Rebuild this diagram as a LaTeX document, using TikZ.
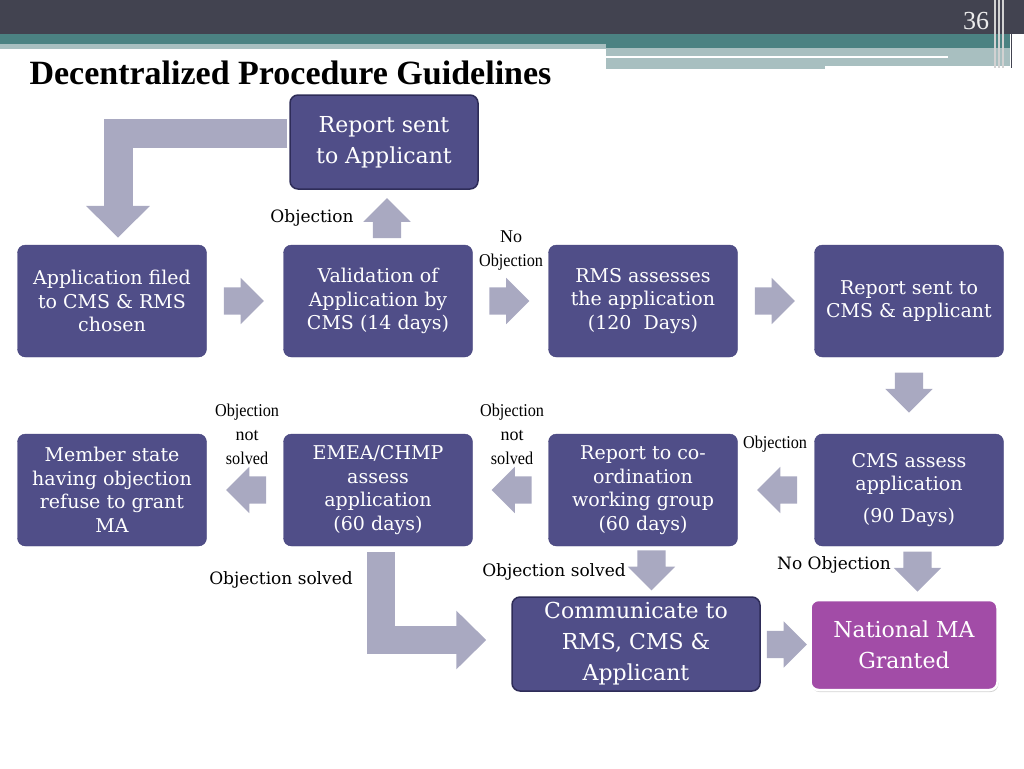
\documentclass[tikz,border=0pt]{standalone}
\usepackage{graphicx}
\usepackage{fontspec}
\setmainfont{DejaVu Serif}
\newfontfamily\narrowserif{Liberation Serif}
\usetikzlibrary{calc, positioning, shapes.arrows, arrows.meta, shadows}

\definecolor{slidedark}{HTML}{424350}
\definecolor{slideteal}{HTML}{4B8282}
\definecolor{slidelight}{HTML}{A8BFC0}
\definecolor{procfill}{HTML}{504E88}
\definecolor{procedge}{HTML}{45437B}
\definecolor{procdark}{HTML}{2E2C58}
\definecolor{grantfill}{HTML}{A24CA7}
\definecolor{arrowgray}{HTML}{A9A9C1}

\newcommand{\narrowtxt}[1]{\scalebox{0.9}[1]{#1}}

\begin{document}
\begin{tikzpicture}[x=1pt, y=-1pt]
	\useasboundingbox (0,0) rectangle (1024,768);

	% slide header bands
	\fill[slidedark] (0,0) rectangle (1024,34);
	\fill[slideteal] (0,34) rectangle (1010,44);
	\fill[slidelight] (0,44) rectangle (606,49);
	\fill[slideteal] (606,44) rectangle (1010,48);
	\fill[slidelight] (606,48) rectangle (1010,66);
	\fill[slidelight] (606,66) rectangle (825,69);
	\fill[white] (606,56) rectangle (948,58);
	\foreach \x in {995,999,1003}
		\draw[gray!35, line width=1.5pt] (\x,0) -- (\x,68);
	\draw[slidedark, line width=1pt] (1011,0) -- (1011,68);
	\node[text=white!85!gray, font=\narrowserif\fontsize{26}{26}\selectfont] (pagenum) at (976,21) {36};
	\node[anchor=west, font=\narrowserif\bfseries\fontsize{34}{34}\selectfont] (title) at (26,73) {Decentralized Procedure Guidelines};

	% define the styles of the boxes and the block arrows
	\tikzstyle{proc box} = [rounded corners=8pt, fill=procfill, draw=procedge, text=white, align=center, minimum width=189pt, minimum height=112pt, inner sep=3pt, font=\fontsize{19}{23.5}\selectfont]
	\tikzstyle{big box} = [proc box, draw=procdark, line width=1.5pt, font=\fontsize{22}{31}\selectfont]
	\tikzstyle{blk arrow} = [fill=arrowgray, single arrow, single arrow head extend=9.5pt, minimum height=40pt, inner xsep=0pt, inner ysep=13.5pt, shape border rotate=#1, shift={(#1+180:8pt)}]
	\tikzstyle{vblk arrow} = [blk arrow=#1, inner xsep=14pt, inner ysep=0pt]
	\tikzstyle{bent arrow} = [draw=arrowgray, line width=29pt, line join=miter, -{Triangle[width=62pt, length=32pt]}]
	\tikzstyle{lbl} = [font=\fontsize{17}{22}\selectfont, inner sep=1pt]
	\tikzstyle{nlbl} = [font=\narrowserif\fontsize{18}{24}\selectfont, align=center, inner sep=1pt]

	% first row
	\node[proc box] (filed) at (112,301) {Application filed\\to CMS \& RMS\\chosen};
	\node[proc box] (valid) at (378,301) {Validation of\\Application by\\CMS (14 days)};
	\node[proc box] (rmsass) at (643,301) {RMS assesses\\the application\\(120~ Days)};
	\node[proc box] (repcms) at (909,301) {Report sent to\\CMS \& applicant};
	\node[big box, minimum width=188pt, minimum height=94pt] (repapp) at (384,142) {Report sent\\to Applicant};

	% second row
	\node[proc box] (refuse) at (112,490) {Member state\\having objection\\refuse to grant\\MA};
	\node[proc box] (emea) at (378,490) {EMEA/CHMP\\assess\\application\\(60 days)};
	\node[proc box] (coord) at (643,490) {Report to co-\\ordination\\working group\\(60 days)};
	\node[proc box] (cmsass) at (909,490) {CMS assess\\application\\[8pt](90 Days)};

	% third row
	\node[big box, minimum width=248pt, minimum height=94pt] (commun) at (636,644) {Communicate to\\RMS, CMS \&\\Applicant};
	\node[proc box, fill=grantfill, draw=white, line width=2.5pt, minimum width=187pt, minimum height=90pt, font=\fontsize{22}{31}\selectfont, drop shadow={opacity=0.35, shadow xshift=1pt, shadow yshift=-2pt}] (granted) at (904,645) {National MA\\Granted};

	% block arrows
	\node[blk arrow=0] (fv) at ($(filed.east)!0.5!(valid.west)$) {};
	\node[blk arrow=0] (vr) at ($(valid.east)!0.5!(rmsass.west)$) {};
	\node[blk arrow=0] (rr) at ($(rmsass.east)!0.5!(repcms.west)$) {};
	\node[vblk arrow=90] (vup) at ($(valid.north)!0.5!(repapp.south)+(6,0)$) {};
	\node[vblk arrow=270] (rc) at ($(repcms.south)!0.5!(cmsass.north)+(0,-2)$) {};
	\node[blk arrow=180] (cc) at ($(cmsass.west)!0.5!(coord.east)$) {};
	\node[blk arrow=180] (ce) at ($(coord.west)!0.5!(emea.east)$) {};
	\node[blk arrow=180] (er) at ($(emea.west)!0.5!(refuse.east)$) {};
	\node[vblk arrow=270] (cdown) at ($(coord.south)!0.5!(commun.north)+(12,0)$) {};
	\node[vblk arrow=270] (gdown) at ($(cmsass.south)!0.5!(granted.north)+(11,0)$) {};
	\node[blk arrow=0] (cg) at ($(commun.east)!0.5!(granted.west)+(3,0)$) {};

	% bent arrows
	\coordinate (loopstart) at ($(repapp.west)+(-2,-9)$);
	\coordinate (looptip) at ($(filed.north)+(6,-7)$);
	\draw[bent arrow] (loopstart) -| (looptip);
	\coordinate (solvestart) at ($(emea.south)+(3,6)$);
	\coordinate (solvetip) at ($(commun.west)+(-25,-4)$);
	\draw[bent arrow, line width=28pt, -{Triangle[width=57pt, length=30pt]}] (solvestart) |- (solvetip);

	% labels
	\node[lbl] (objup) at (312,218) {Objection};
	\node[nlbl] (noobj) at (511,251) {No\\\narrowtxt{Objection}};
	\node[nlbl] (nsolved1) at (247,434) {\narrowtxt{Objection}\\not\\\narrowtxt{solved}};
	\node[nlbl] (nsolved2) at (512,434) {\narrowtxt{Objection}\\not\\\narrowtxt{solved}};
	\node[nlbl] (objleft) at (775,444) {\narrowtxt{Objection}};
	\node[lbl] (solved1) at (281,580) {Objection solved};
	\node[lbl] (solved2) at (554,572) {Objection solved};
	\node[lbl] (noobj2) at (834,565) {No Objection};
\end{tikzpicture}
\end{document}
